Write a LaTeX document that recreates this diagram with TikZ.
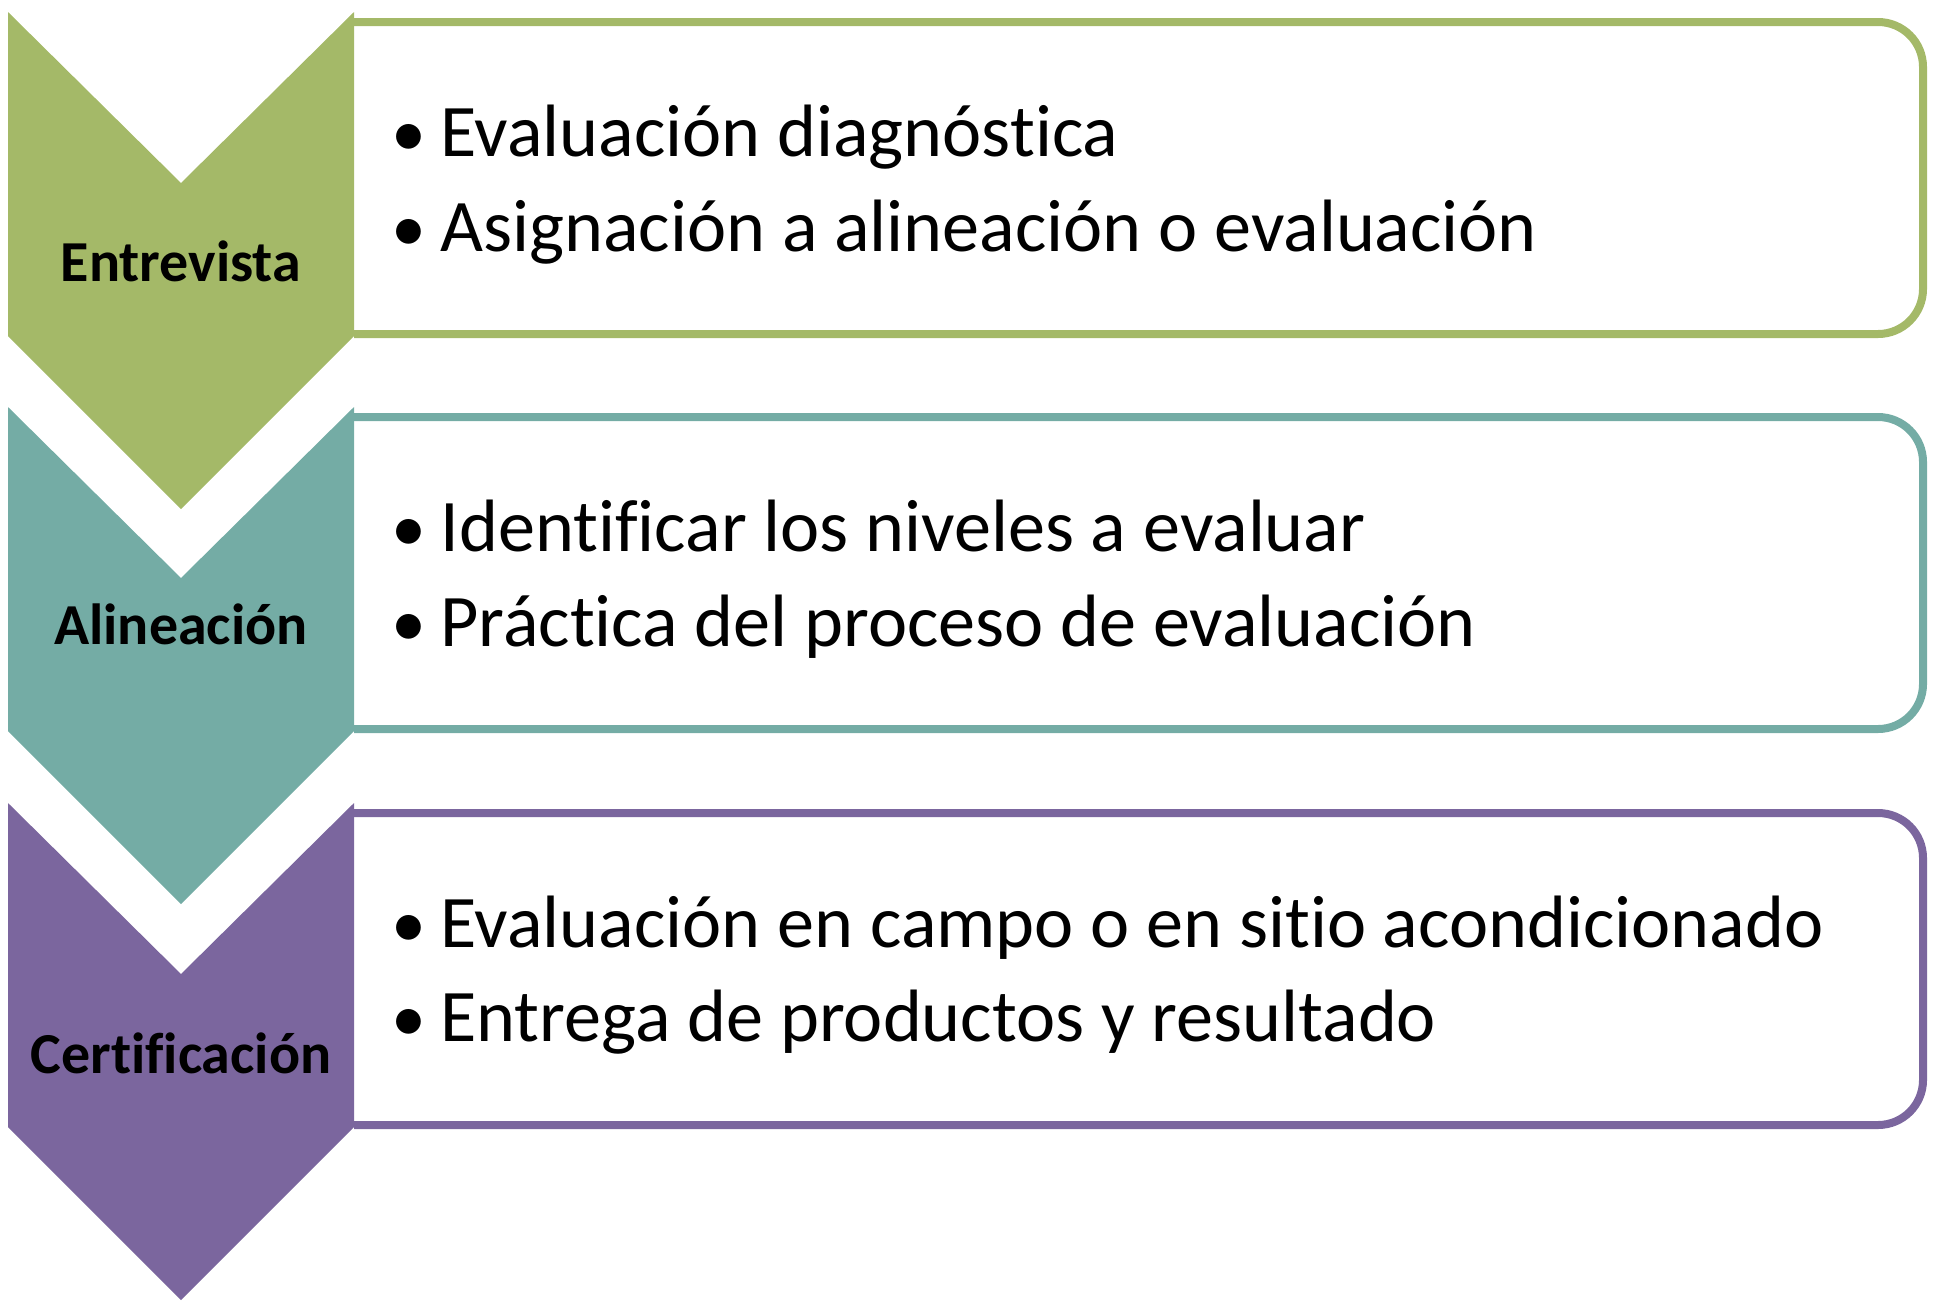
\documentclass[tikz,border=0pt]{standalone}
\usepackage{fontspec}
\setmainfont{Carlito}[Ligatures=NoCommon]
\definecolor{cgreen}{HTML}{A4B968}
\definecolor{cteal}{HTML}{74ACA5}
\definecolor{cpurple}{HTML}{7B669E}
\begin{document}
\begin{tikzpicture}[x=0.5pt,y=-0.5pt]
\tikzset{
  stepbox/.style={line width=4pt, rounded corners=22.5pt},
  lab/.style={font=\fontsize{29}{35}\selectfont\bfseries, anchor=base, inner sep=0pt},
  item/.style={font=\fontsize{37.1}{44}\selectfont, anchor=base west, inner sep=0pt},
  bul/.style={font=\fontsize{35}{44}\selectfont, anchor=base, inner sep=0pt}
}
\useasboundingbox (0,0) rectangle (1936,1308);
% boxes (left side hidden by chevrons)
\draw[stepbox, draw=cgreen]  (354,22)  -- (1923,22)  -- (1923,334)  -- (354,334);
\draw[stepbox, draw=cteal]   (354,417) -- (1923,417) -- (1923,729)  -- (354,729);
\draw[stepbox, draw=cpurple] (354,813) -- (1923,813) -- (1923,1125) -- (354,1125);
% chevrons
\fill[cgreen]  (8,12)  -- (181,183) -- (354,12)  -- (354,336)  -- (181,509)  -- (8,336)  -- cycle;
\fill[cteal]   (8,407) -- (181,578) -- (354,407) -- (354,731)  -- (181,904)  -- (8,731)  -- cycle;
\fill[cpurple] (8,803) -- (181,974) -- (354,803) -- (354,1127) -- (181,1300) -- (8,1127) -- cycle;
% labels
\node[lab] (l1) at (181,281)  {Entrevista};
\node[lab] (l2) at (181,644)  {Alineación};
\node[lab] (l3) at (181,1073) {Certificación};
% items
\node[bul] (b11) at (409,156) {•};
\node[item] (t11) at (440,156) {Evaluación diagnóstica};
\node[bul] (b12) at (409,251) {•};
\node[item] (t12) at (440,251) {Asignación a alineación o evaluación};
\node[bul] (b21) at (409,551) {•};
\node[item] (t21) at (440,551) {Identificar los niveles a evaluar};
\node[bul] (b22) at (409,646) {•};
\node[item] (t22) at (440,646) {Práctica del proceso de evaluación};
\node[bul] (b31) at (409,947) {•};
\node[item] (t31) at (440,947) {Evaluación en campo o en sitio acondicionado};
\node[bul] (b32) at (409,1041) {•};
\node[item] (t32) at (440,1041) {Entrega de productos y resultado};
\end{tikzpicture}
\end{document}
